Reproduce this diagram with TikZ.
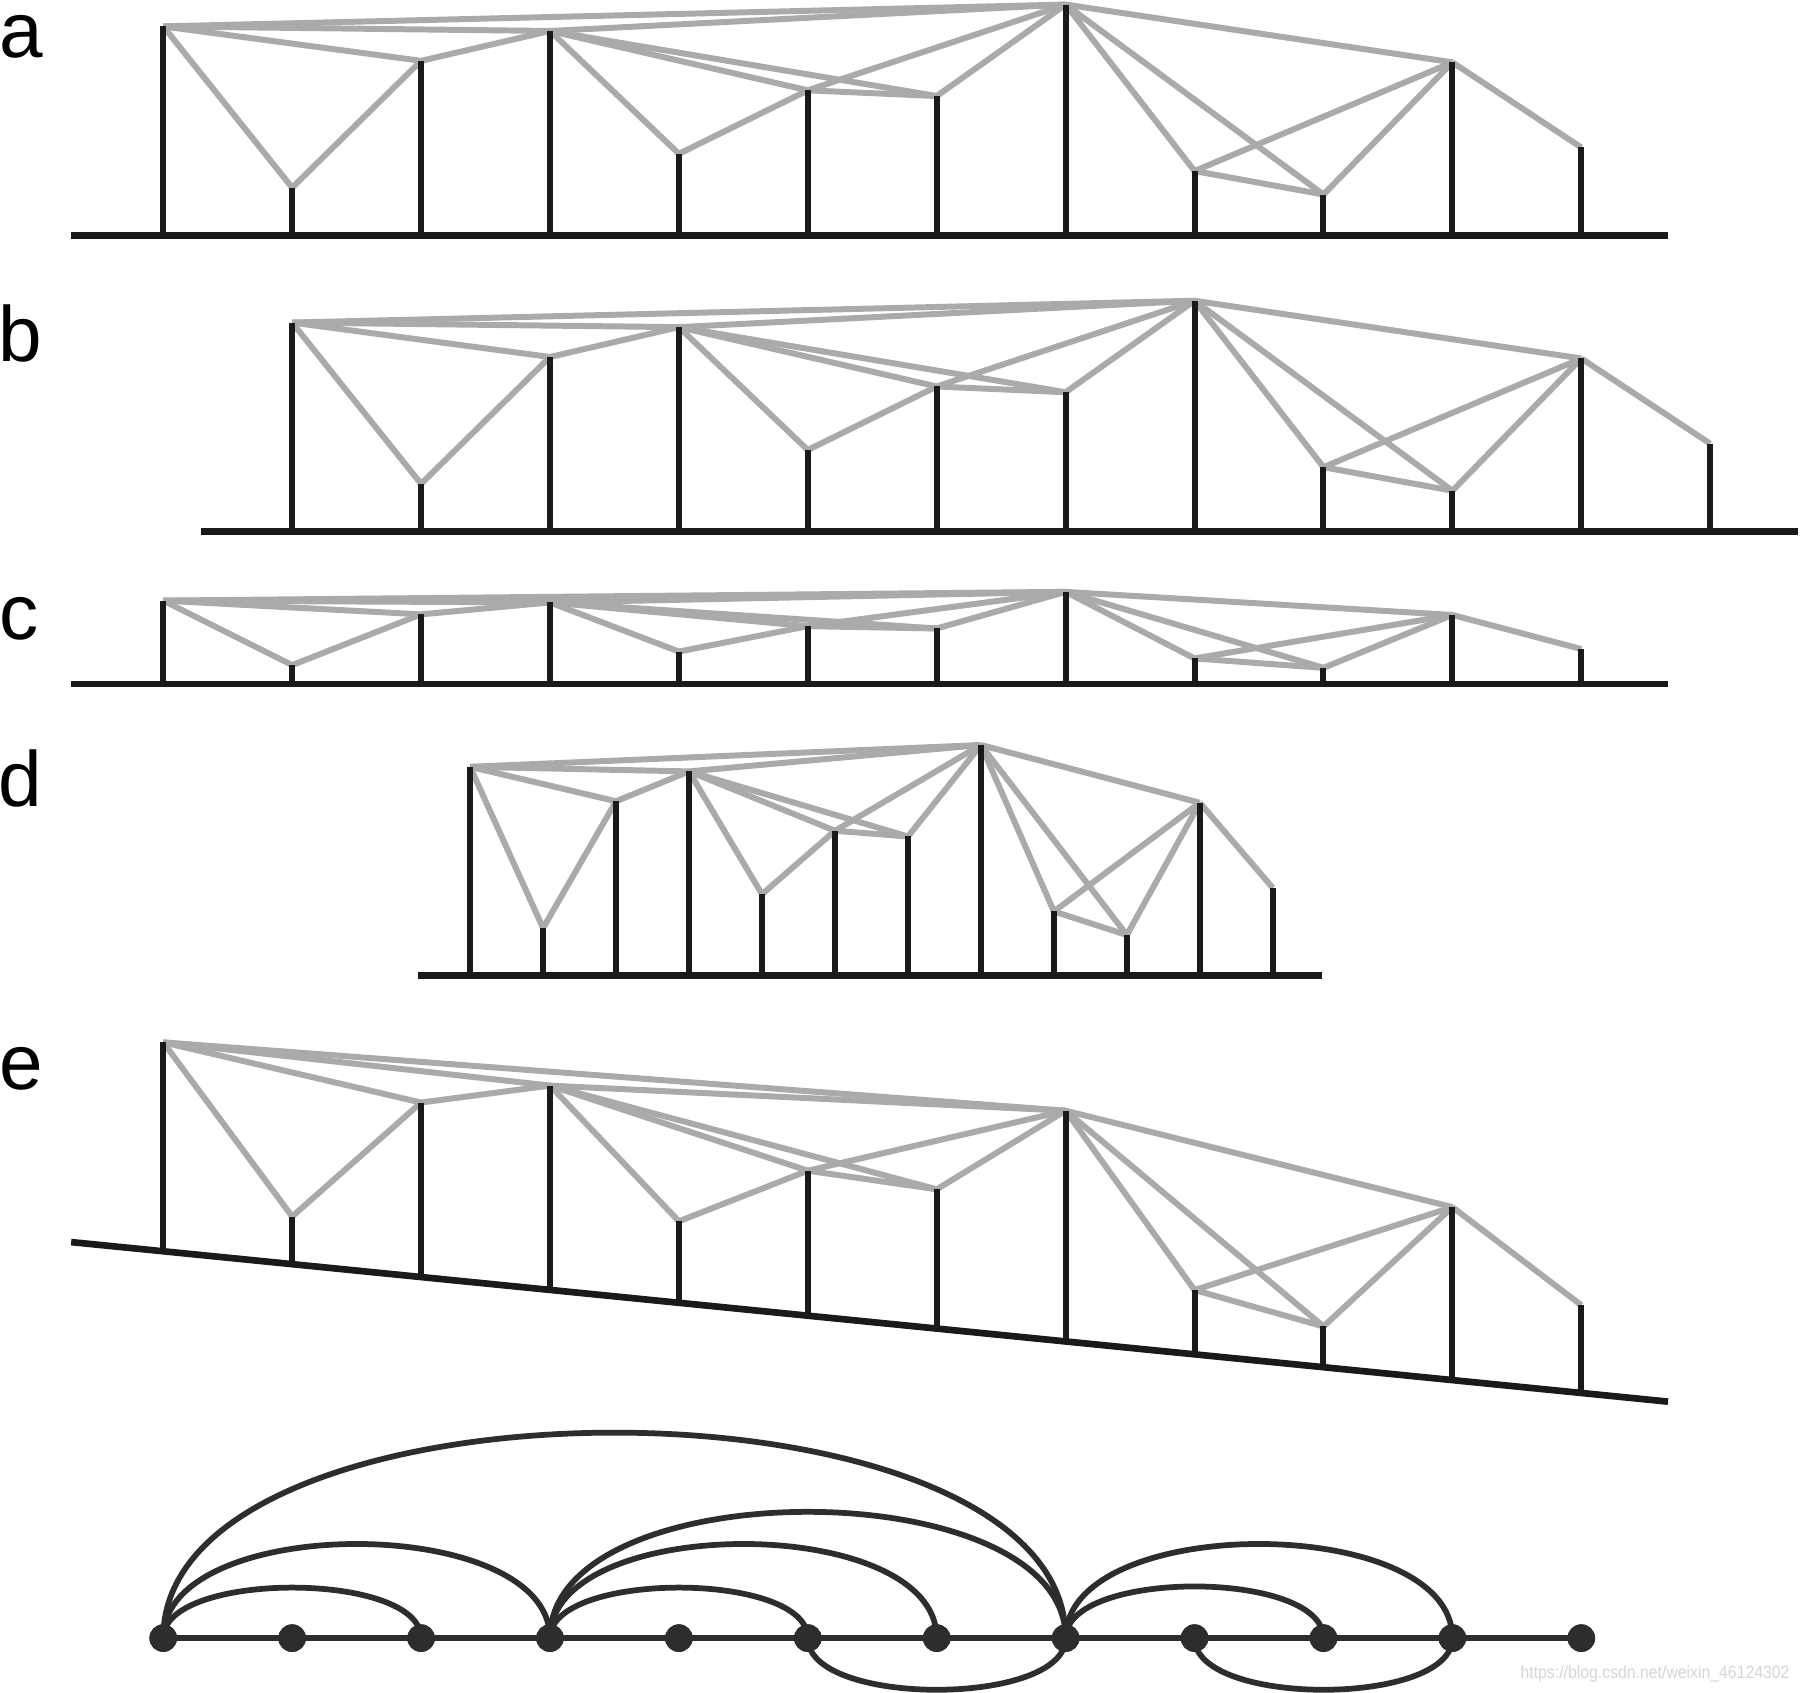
\documentclass[tikz,border=0pt]{standalone}
\usepackage{fontspec}
\setmainfont{Liberation Sans}
\definecolor{barc}{HTML}{1A1A1A}
\definecolor{edgec}{HTML}{AAAAAA}
\definecolor{arcc}{HTML}{2D2D2D}
\definecolor{wmc}{HTML}{D6D6D6}
\tikzset{
  bar/.style={draw=barc, line width=0.052cm},
  baseln/.style={draw=barc, line width=0.058cm},
  gedge/.style={draw=edgec, line width=0.052cm},
  arcl/.style={draw=arcc, line width=0.05cm},
  dot/.style={circle, fill=arcc, inner sep=0pt, minimum size=0.24cm},
  lab/.style={anchor=base west, inner sep=0pt, font=\fontsize{19.4pt}{23pt}\selectfont},
  wm/.style={anchor=base west, inner sep=0pt, text=wmc, font=\fontsize{4.4pt}{5pt}\selectfont, xscale=0.89}
}
% #1 prefix, #2 x of first point, #3 spacing, #4 base y at x=62, #5 slope of base, #6 vertical scale
\newcommand\vgpanel[6]{%
  \foreach \i/\h in {1/182,2/41.5,3/152,4/178,5/71,6/126.3,7/121.3,8/201,9/56,10/35.5,11/150.7,12/76.5}{
    \pgfmathsetmacro\xx{#2+#3*(\i-1)}
    \pgfmathsetmacro\yb{#4+#5*(\xx-62)}
    \pgfmathsetmacro\yt{\yb-#6*\h}
    \coordinate (#1b\i) at (\xx,\yb);
    \coordinate (#1t\i) at (\xx,\yt);
  }
  \foreach \i/\j in {1/2,1/3,1/4,1/8,2/3,3/4,4/5,4/6,4/7,4/8,5/6,6/7,6/8,7/8,8/9,8/10,8/11,9/10,9/11,10/11,11/12}
    \draw[gedge] (#1t\i) -- (#1t\j);
  \foreach \i in {1,...,12}
    \draw[bar] (#1b\i) -- (#1t\i);
}
\begin{document}
\begin{tikzpicture}[x=0.01cm, y=-0.01cm]
\fill[white] (0,0) rectangle (1568,1474);
\useasboundingbox (0,0) rectangle (1568,1474);

% labels
\node[lab] (la) at (-1,50) {a};
\node[lab] (lb) at (-2,315) {b};
\node[lab] (lc) at (-1,557) {c};
\node[lab] (ld) at (-2,703) {d};
\node[lab] (le) at (-1,949) {e};

% panel a
\coordinate (aL) at (62,205); \coordinate (aR) at (1453,205);
\draw[baseln] (aL) -- (aR);
\vgpanel{a}{142.2}{112.3}{205}{0}{1}

% panel b
\coordinate (bL) at (175,463); \coordinate (bR) at (1566,463);
\draw[baseln] (bL) -- (bR);
\vgpanel{b}{254.5}{112.3}{463}{0}{1}

% panel c
\coordinate (cL) at (62,596); \coordinate (cR) at (1453,596);
\draw[baseln] (cL) -- (cR);
\vgpanel{c}{142.2}{112.3}{596}{0}{0.4}

% panel d
\coordinate (dL) at (364,850); \coordinate (dR) at (1152,850);
\draw[baseln] (dL) -- (dR);
\vgpanel{d}{409.5}{63.57}{850}{0}{1}

% panel e
\coordinate (eL) at (62,1082); \coordinate (eR) at (1453,1221);
\draw[baseln] (eL) -- (eR);
\vgpanel{e}{142.2}{112.3}{1082}{0.09993}{1}

% arc diagram
\foreach \i in {1,...,12}{
  \pgfmathsetmacro\xx{142.2+112.3*(\i-1)}
  \node[dot] (v\i) at (\xx,1427) {};
}
\foreach \i/\j in {1/2,2/3,3/4,4/5,5/6,6/7,7/8,8/9,9/10,10/11,11/12}
  \draw[arcl] (v\i.center) -- (v\j.center);
% arcs above: pair / height
\foreach \i/\j/\h in {1/3/44,1/4/82,1/8/179,4/6/44,4/7/82,4/8/110,8/10/45,8/11/82}{
  \pgfmathsetmacro\c{-4/3*\h}
  \draw[arcl] (v\i.center) .. controls +(0,\c) and +(0,\c) .. (v\j.center);
}
% arcs below
\foreach \i/\j/\h in {6/8/45,9/11/45}{
  \pgfmathsetmacro\c{4/3*\h}
  \draw[arcl] (v\i.center) .. controls +(0,\c) and +(0,\c) .. (v\j.center);
}
\foreach \i in {1,...,12}
  \node[dot] at (v\i) {};

% watermark
\node[wm] (wm) at (1324,1462) {https://blog.csdn.net/weixin\_46124302};
\end{tikzpicture}
\end{document}
